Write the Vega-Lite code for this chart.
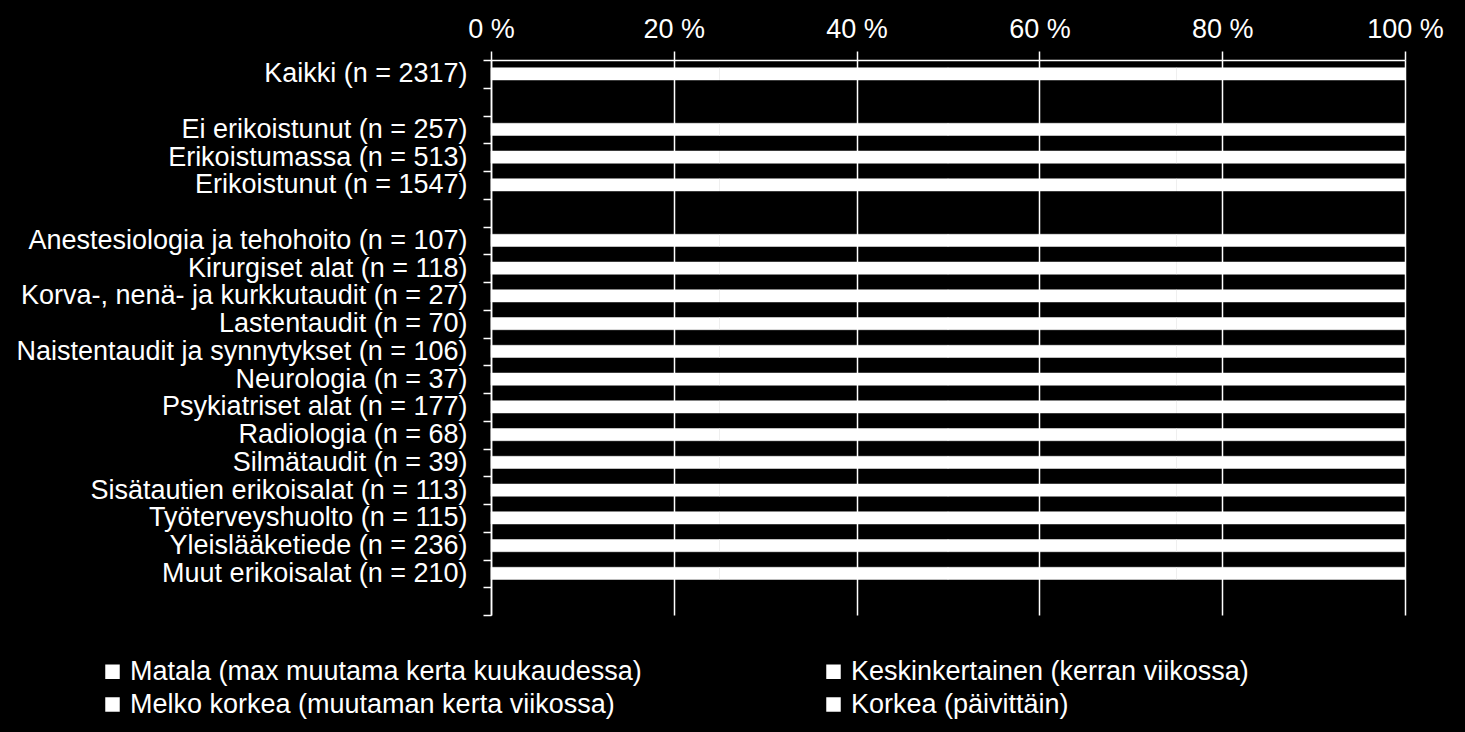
{
  "$schema": "https://vega.github.io/schema/vega-lite/v6.json",
  "width": 914,
  "height": 555,
  "autosize": "none",
  "padding": {"left": 491, "top": 60, "right": 60, "bottom": 117},
  "background": "black",
  "config": {"view": {"stroke": null}, "font": "Liberation Sans"},
  "data": {"values": [
    {"group": "Kaikki (n = 2317)", "level": "Matala (max muutama kerta kuukaudessa)", "value": 25},
    {"group": "Kaikki (n = 2317)", "level": "Keskinkertainen (kerran viikossa)", "value": 25},
    {"group": "Kaikki (n = 2317)", "level": "Melko korkea (muutaman kerta viikossa)", "value": 25},
    {"group": "Kaikki (n = 2317)", "level": "Korkea (päivittäin)", "value": 25},
    {"group": "Ei erikoistunut (n = 257)", "level": "Matala (max muutama kerta kuukaudessa)", "value": 25},
    {"group": "Ei erikoistunut (n = 257)", "level": "Keskinkertainen (kerran viikossa)", "value": 25},
    {"group": "Ei erikoistunut (n = 257)", "level": "Melko korkea (muutaman kerta viikossa)", "value": 25},
    {"group": "Ei erikoistunut (n = 257)", "level": "Korkea (päivittäin)", "value": 25},
    {"group": "Erikoistumassa (n = 513)", "level": "Matala (max muutama kerta kuukaudessa)", "value": 25},
    {"group": "Erikoistumassa (n = 513)", "level": "Keskinkertainen (kerran viikossa)", "value": 25},
    {"group": "Erikoistumassa (n = 513)", "level": "Melko korkea (muutaman kerta viikossa)", "value": 25},
    {"group": "Erikoistumassa (n = 513)", "level": "Korkea (päivittäin)", "value": 25},
    {"group": "Erikoistunut (n = 1547)", "level": "Matala (max muutama kerta kuukaudessa)", "value": 25},
    {"group": "Erikoistunut (n = 1547)", "level": "Keskinkertainen (kerran viikossa)", "value": 25},
    {"group": "Erikoistunut (n = 1547)", "level": "Melko korkea (muutaman kerta viikossa)", "value": 25},
    {"group": "Erikoistunut (n = 1547)", "level": "Korkea (päivittäin)", "value": 25},
    {"group": "Anestesiologia ja tehohoito (n = 107)", "level": "Matala (max muutama kerta kuukaudessa)", "value": 25},
    {"group": "Anestesiologia ja tehohoito (n = 107)", "level": "Keskinkertainen (kerran viikossa)", "value": 25},
    {"group": "Anestesiologia ja tehohoito (n = 107)", "level": "Melko korkea (muutaman kerta viikossa)", "value": 25},
    {"group": "Anestesiologia ja tehohoito (n = 107)", "level": "Korkea (päivittäin)", "value": 25},
    {"group": "Kirurgiset alat (n = 118)", "level": "Matala (max muutama kerta kuukaudessa)", "value": 25},
    {"group": "Kirurgiset alat (n = 118)", "level": "Keskinkertainen (kerran viikossa)", "value": 25},
    {"group": "Kirurgiset alat (n = 118)", "level": "Melko korkea (muutaman kerta viikossa)", "value": 25},
    {"group": "Kirurgiset alat (n = 118)", "level": "Korkea (päivittäin)", "value": 25},
    {"group": "Korva-, nenä- ja kurkkutaudit (n = 27)", "level": "Matala (max muutama kerta kuukaudessa)", "value": 25},
    {"group": "Korva-, nenä- ja kurkkutaudit (n = 27)", "level": "Keskinkertainen (kerran viikossa)", "value": 25},
    {"group": "Korva-, nenä- ja kurkkutaudit (n = 27)", "level": "Melko korkea (muutaman kerta viikossa)", "value": 25},
    {"group": "Korva-, nenä- ja kurkkutaudit (n = 27)", "level": "Korkea (päivittäin)", "value": 25},
    {"group": "Lastentaudit (n = 70)", "level": "Matala (max muutama kerta kuukaudessa)", "value": 25},
    {"group": "Lastentaudit (n = 70)", "level": "Keskinkertainen (kerran viikossa)", "value": 25},
    {"group": "Lastentaudit (n = 70)", "level": "Melko korkea (muutaman kerta viikossa)", "value": 25},
    {"group": "Lastentaudit (n = 70)", "level": "Korkea (päivittäin)", "value": 25},
    {"group": "Naistentaudit ja synnytykset (n = 106)", "level": "Matala (max muutama kerta kuukaudessa)", "value": 25},
    {"group": "Naistentaudit ja synnytykset (n = 106)", "level": "Keskinkertainen (kerran viikossa)", "value": 25},
    {"group": "Naistentaudit ja synnytykset (n = 106)", "level": "Melko korkea (muutaman kerta viikossa)", "value": 25},
    {"group": "Naistentaudit ja synnytykset (n = 106)", "level": "Korkea (päivittäin)", "value": 25},
    {"group": "Neurologia (n = 37)", "level": "Matala (max muutama kerta kuukaudessa)", "value": 25},
    {"group": "Neurologia (n = 37)", "level": "Keskinkertainen (kerran viikossa)", "value": 25},
    {"group": "Neurologia (n = 37)", "level": "Melko korkea (muutaman kerta viikossa)", "value": 25},
    {"group": "Neurologia (n = 37)", "level": "Korkea (päivittäin)", "value": 25},
    {"group": "Psykiatriset alat (n = 177)", "level": "Matala (max muutama kerta kuukaudessa)", "value": 25},
    {"group": "Psykiatriset alat (n = 177)", "level": "Keskinkertainen (kerran viikossa)", "value": 25},
    {"group": "Psykiatriset alat (n = 177)", "level": "Melko korkea (muutaman kerta viikossa)", "value": 25},
    {"group": "Psykiatriset alat (n = 177)", "level": "Korkea (päivittäin)", "value": 25},
    {"group": "Radiologia (n = 68)", "level": "Matala (max muutama kerta kuukaudessa)", "value": 25},
    {"group": "Radiologia (n = 68)", "level": "Keskinkertainen (kerran viikossa)", "value": 25},
    {"group": "Radiologia (n = 68)", "level": "Melko korkea (muutaman kerta viikossa)", "value": 25},
    {"group": "Radiologia (n = 68)", "level": "Korkea (päivittäin)", "value": 25},
    {"group": "Silmätaudit (n = 39)", "level": "Matala (max muutama kerta kuukaudessa)", "value": 25},
    {"group": "Silmätaudit (n = 39)", "level": "Keskinkertainen (kerran viikossa)", "value": 25},
    {"group": "Silmätaudit (n = 39)", "level": "Melko korkea (muutaman kerta viikossa)", "value": 25},
    {"group": "Silmätaudit (n = 39)", "level": "Korkea (päivittäin)", "value": 25},
    {"group": "Sisätautien erikoisalat (n = 113)", "level": "Matala (max muutama kerta kuukaudessa)", "value": 25},
    {"group": "Sisätautien erikoisalat (n = 113)", "level": "Keskinkertainen (kerran viikossa)", "value": 25},
    {"group": "Sisätautien erikoisalat (n = 113)", "level": "Melko korkea (muutaman kerta viikossa)", "value": 25},
    {"group": "Sisätautien erikoisalat (n = 113)", "level": "Korkea (päivittäin)", "value": 25},
    {"group": "Työterveyshuolto (n = 115)", "level": "Matala (max muutama kerta kuukaudessa)", "value": 25},
    {"group": "Työterveyshuolto (n = 115)", "level": "Keskinkertainen (kerran viikossa)", "value": 25},
    {"group": "Työterveyshuolto (n = 115)", "level": "Melko korkea (muutaman kerta viikossa)", "value": 25},
    {"group": "Työterveyshuolto (n = 115)", "level": "Korkea (päivittäin)", "value": 25},
    {"group": "Yleislääketiede (n = 236)", "level": "Matala (max muutama kerta kuukaudessa)", "value": 25},
    {"group": "Yleislääketiede (n = 236)", "level": "Keskinkertainen (kerran viikossa)", "value": 25},
    {"group": "Yleislääketiede (n = 236)", "level": "Melko korkea (muutaman kerta viikossa)", "value": 25},
    {"group": "Yleislääketiede (n = 236)", "level": "Korkea (päivittäin)", "value": 25},
    {"group": "Muut erikoisalat (n = 210)", "level": "Matala (max muutama kerta kuukaudessa)", "value": 25},
    {"group": "Muut erikoisalat (n = 210)", "level": "Keskinkertainen (kerran viikossa)", "value": 25},
    {"group": "Muut erikoisalat (n = 210)", "level": "Melko korkea (muutaman kerta viikossa)", "value": 25},
    {"group": "Muut erikoisalat (n = 210)", "level": "Korkea (päivittäin)", "value": 25}
  ]},
  "mark": {"type": "bar", "height": {"band": 0.44}, "stroke": "white", "strokeWidth": 0.5},
  "encoding": {
    "y": {
      "field": "group", "type": "nominal",
      "scale": {
        "domain": ["Kaikki (n = 2317)", " ", "Ei erikoistunut (n = 257)", "Erikoistumassa (n = 513)", "Erikoistunut (n = 1547)", "  ", "Anestesiologia ja tehohoito (n = 107)", "Kirurgiset alat (n = 118)", "Korva-, nenä- ja kurkkutaudit (n = 27)", "Lastentaudit (n = 70)", "Naistentaudit ja synnytykset (n = 106)", "Neurologia (n = 37)", "Psykiatriset alat (n = 177)", "Radiologia (n = 68)", "Silmätaudit (n = 39)", "Sisätautien erikoisalat (n = 113)", "Työterveyshuolto (n = 115)", "Yleislääketiede (n = 236)", "Muut erikoisalat (n = 210)", "   "],
        "paddingInner": 0, "paddingOuter": 0
      },
      "axis": {
        "title": null, "grid": false,
        "domainColor": "white", "domainWidth": 1.5,
        "tickColor": "white", "tickWidth": 1.5, "tickSize": 8, "tickBand": "extent",
        "labelColor": "white", "labelFontSize": 27, "labelPadding": 16, "labelLimit": 600
      }
    },
    "x": {
      "field": "value", "type": "quantitative", "stack": "zero",
      "scale": {"domain": [0, 100], "nice": false},
      "axis": {
        "orient": "top", "title": null, "values": [0, 20, 40, 60, 80, 100],
        "labelExpr": "datum.value + ' %'", "labelFlush": false,
        "grid": true, "gridColor": "white", "gridWidth": 1.5, "gridOpacity": 1,
        "domainColor": "white", "domainWidth": 1.5,
        "tickColor": "white", "tickWidth": 1.5, "tickSize": 9,
        "labelColor": "white", "labelFontSize": 27, "labelPadding": 8
      }
    },
    "color": {
      "field": "level", "type": "nominal",
      "scale": {
        "domain": ["Matala (max muutama kerta kuukaudessa)", "Keskinkertainen (kerran viikossa)", "Melko korkea (muutaman kerta viikossa)", "Korkea (päivittäin)"],
        "range": ["#ffffff", "#ffffff", "#ffffff", "#ffffff"]
      },
      "legend": {
        "orient": "none", "legendX": -392, "legendY": 598, "columns": 2, "direction": "horizontal", "title": null,
        "symbolType": "square", "symbolSize": 210, "symbolFillColor": "white", "symbolStrokeWidth": 0,
        "labelColor": "white", "labelFontSize": 27, "labelOffset": 4, "labelLimit": 700,
        "columnPadding": 178, "rowPadding": 5, "padding": 0
      }
    }
  }
}
